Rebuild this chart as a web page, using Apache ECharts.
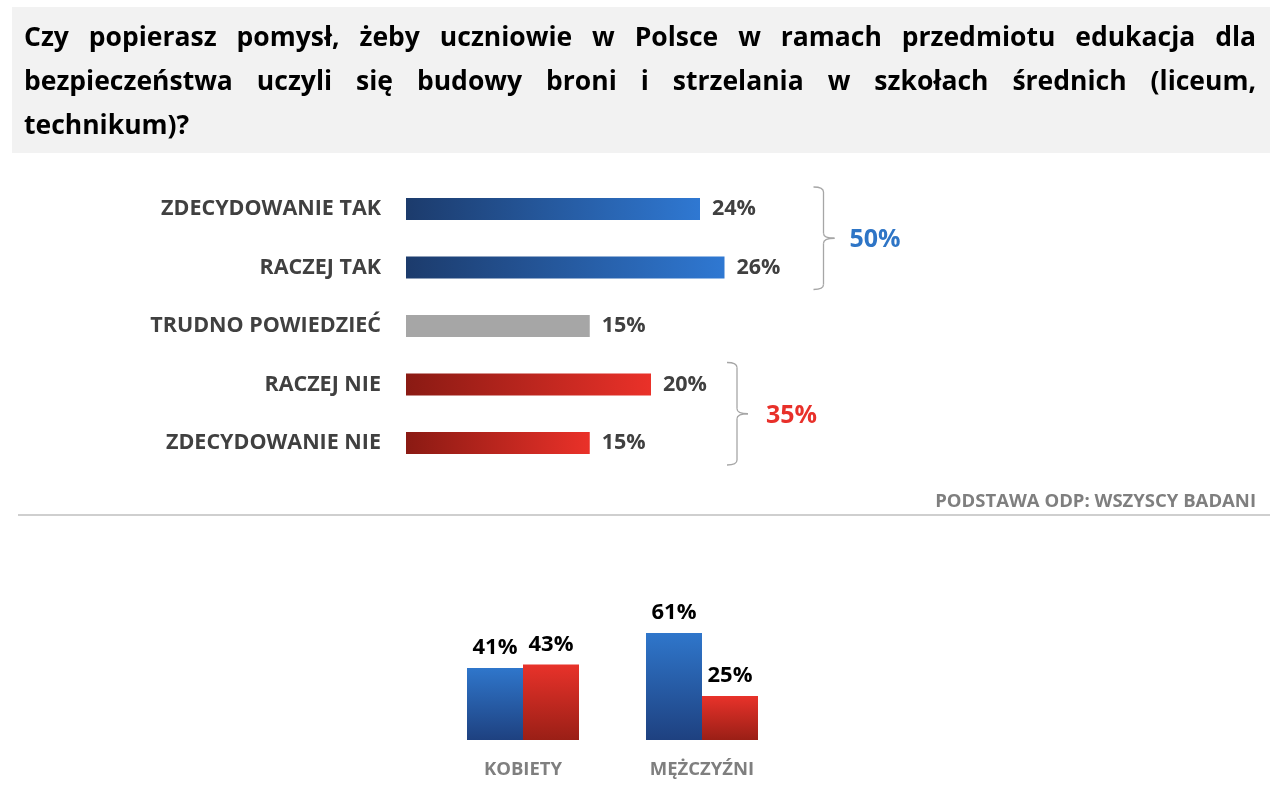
<!DOCTYPE html>
<html>
<head>
<meta charset="utf-8">
<script src="https://cdn.jsdelivr.net/npm/echarts@6/dist/echarts.min.js"></script>
<style>html,body{margin:0;padding:0;background:#fff}#c{width:1280px;height:809px}</style>
</head>
<body>
<div id="c"></div>
<script>
// ---- DATA ----
const titleLines = [
  "Czy popierasz pomysł, żeby uczniowie w Polsce w ramach przedmiotu edukacja dla",
  "bezpieczeństwa uczyli się budowy broni i strzelania w szkołach średnich (liceum,",
  "technikum)?"
];
const answerCategories = ["ZDECYDOWANIE TAK", "RACZEJ TAK", "TRUDNO POWIEDZIEĆ", "RACZEJ NIE", "ZDECYDOWANIE NIE"];
const answerValues = [24, 26, 15, 20, 15];
const answerKinds = ["yes", "yes", "neutral", "no", "no"];
const yesGroup = [0, 1];   // indices summed -> 50%
const noGroup = [3, 4];    // indices summed -> 35%
const footnote = "PODSTAWA ODP: WSZYSCY BADANI";
const genderCategories = ["KOBIETY", "MĘŻCZYŹNI"];
const genderYes = [41, 61];
const genderNo = [43, 25];

// ---- STYLE ----
const FONT = '"Open Sans", "Noto Sans", sans-serif';
const BLUE = '#2e75c6', RED = '#e8302a';
const hGrad = {
  yes: new echarts.graphic.LinearGradient(0, 0, 1, 0, [{offset: 0, color: '#1c3b6c'}, {offset: 1, color: '#2f78d2'}]),
  neutral: '#a6a6a6',
  no: new echarts.graphic.LinearGradient(0, 0, 1, 0, [{offset: 0, color: '#8a1a13'}, {offset: 1, color: '#ea3129'}])
};
const vBlue = new echarts.graphic.LinearGradient(0, 0, 0, 1, [{offset: 0, color: '#2f76cb'}, {offset: 1, color: '#1e4180'}]);
const vRed = new echarts.graphic.LinearGradient(0, 0, 0, 1, [{offset: 0, color: '#e8322a'}, {offset: 1, color: '#9a1f16'}]);

const chart = echarts.init(document.getElementById('c'), null, {renderer: 'canvas'});

// ---- Title (justified, real text) ----
const titleFS = 26.5;
const titleLeft = 24, titleRight = 1256;
const ctx = document.createElement('canvas').getContext('2d');
ctx.font = 'bold ' + titleFS + 'px ' + FONT;
const titleGraphics = [{
  type: 'rect', shape: {x: 12, y: 7, width: 1258, height: 146}, style: {fill: '#f2f2f2'}, silent: true
}];
const lineY = [38, 82, 126];
titleLines.forEach((line, li) => {
  const words = line.split(' ');
  const widths = words.map(w => ctx.measureText(w).width);
  const total = widths.reduce((a, b) => a + b, 0);
  const justify = li < titleLines.length - 1;
  const gap = justify ? (titleRight - titleLeft - total) / (words.length - 1) : ctx.measureText(' ').width;
  let x = titleLeft;
  words.forEach((w, i) => {
    titleGraphics.push({
      type: 'text', x: x, y: lineY[li],
      style: {text: w, fill: '#000', font: 'bold ' + titleFS + 'px ' + FONT, verticalAlign: 'middle', align: 'left'}
    });
    x += widths[i] + gap;
  });
});

const baseGraphics = titleGraphics.concat([
  {type: 'line', shape: {x1: 18, y1: 515, x2: 1270, y2: 515}, style: {stroke: '#bfbfbf', lineWidth: 1.5}},
  {type: 'text', x: 1256, y: 502, style: {text: footnote, fill: '#7f7f7f', font: 'bold 18.5px ' + FONT, align: 'right', verticalAlign: 'middle'}}
]);

const option = {
  backgroundColor: '#fff',
  animation: false,
  grid: [
    {left: 406, top: 179.75, width: 612.5, height: 292.5},
    {left: 433.5, top: 564.4, width: 358, height: 175.6}
  ],
  xAxis: [
    {type: 'value', gridIndex: 0, min: 0, max: 50, show: false},
    {type: 'category', gridIndex: 1, data: genderCategories,
      axisLine: {show: false}, axisTick: {show: false},
      axisLabel: {margin: 20, color: '#7f7f7f', fontFamily: FONT, fontWeight: 'bold', fontSize: 18.5}}
  ],
  yAxis: [
    {type: 'category', gridIndex: 0, inverse: true, data: answerCategories,
      axisLine: {show: false}, axisTick: {show: false},
      axisLabel: {margin: 25, color: '#404040', fontFamily: FONT, fontWeight: 'bold', fontSize: 21.5}},
    {type: 'value', gridIndex: 1, min: 0, max: 100, show: false}
  ],
  series: [
    {
      type: 'bar', xAxisIndex: 0, yAxisIndex: 0, barWidth: 22,
      data: answerValues.map((v, i) => ({value: v, itemStyle: {color: hGrad[answerKinds[i]]}})),
      label: {show: true, position: 'right', distance: 12, formatter: '{c}%',
        color: '#404040', fontFamily: FONT, fontWeight: 'bold', fontSize: 21.5}
    },
    {
      name: 'TAK', type: 'bar', xAxisIndex: 1, yAxisIndex: 1, barWidth: 56, barGap: '0%',
      data: genderYes, itemStyle: {color: vBlue},
      label: {show: true, position: 'top', distance: 9, formatter: '{c}%',
        color: '#000', fontFamily: FONT, fontWeight: 'bold', fontSize: 22}
    },
    {
      name: 'NIE', type: 'bar', xAxisIndex: 1, yAxisIndex: 1, barWidth: 56, barGap: '0%',
      data: genderNo, itemStyle: {color: vRed},
      label: {show: true, position: 'top', distance: 9, formatter: '{c}%',
        color: '#000', fontFamily: FONT, fontWeight: 'bold', fontSize: 22}
    }
  ],
  graphic: baseGraphics
};
chart.setOption(option);

// ---- Brackets with group sums, positioned through the axes ----
function bracket(group, xOffset, labelGap, color) {
  const maxV = Math.max(...group.map(i => answerValues[i]));
  const sum = group.reduce((a, i) => a + answerValues[i], 0);
  const xEnd = chart.convertToPixel({xAxisIndex: 0}, maxV);
  const yFirst = chart.convertToPixel({yAxisIndex: 0}, answerCategories[group[0]]);
  const yLast = chart.convertToPixel({yAxisIndex: 0}, answerCategories[group[group.length - 1]]);
  const y0 = yFirst - 22, y1 = yLast + 22, ym = (y0 + y1) / 2;
  const x1 = xEnd + xOffset, x0 = x1 - 10, x2 = x1 + 11, r = 5;
  const st = {stroke: '#a6a6a6', lineWidth: 1.3, fill: null};
  const curve = (ax, ay, cx, cy, bx, by) => ({type: 'bezierCurve', shape: {x1: ax, y1: ay, x2: bx, y2: by, cpx1: cx, cpy1: cy}, style: st});
  return [
    curve(x0, y0, x1, y0, x1, y0 + r),
    {type: 'line', shape: {x1: x1, y1: y0 + r, x2: x1, y2: ym - r}, style: st},
    curve(x1, ym - r, x1, ym, x2, ym),
    curve(x2, ym, x1, ym, x1, ym + r),
    {type: 'line', shape: {x1: x1, y1: ym + r, x2: x1, y2: y1 - r}, style: st},
    curve(x1, y1 - r, x1, y1, x0, y1),
    {type: 'text', x: x2 + labelGap, y: ym + 2, style: {text: sum + '%', fill: color, font: 'bold 25px ' + FONT, verticalAlign: 'middle', align: 'left'}}
  ];
}
const extra = bracket(yesGroup, 99, 15, BLUE).concat(bracket(noGroup, 86, 18, RED));
chart.setOption({graphic: baseGraphics.concat(extra)});
</script>
</body>
</html>
